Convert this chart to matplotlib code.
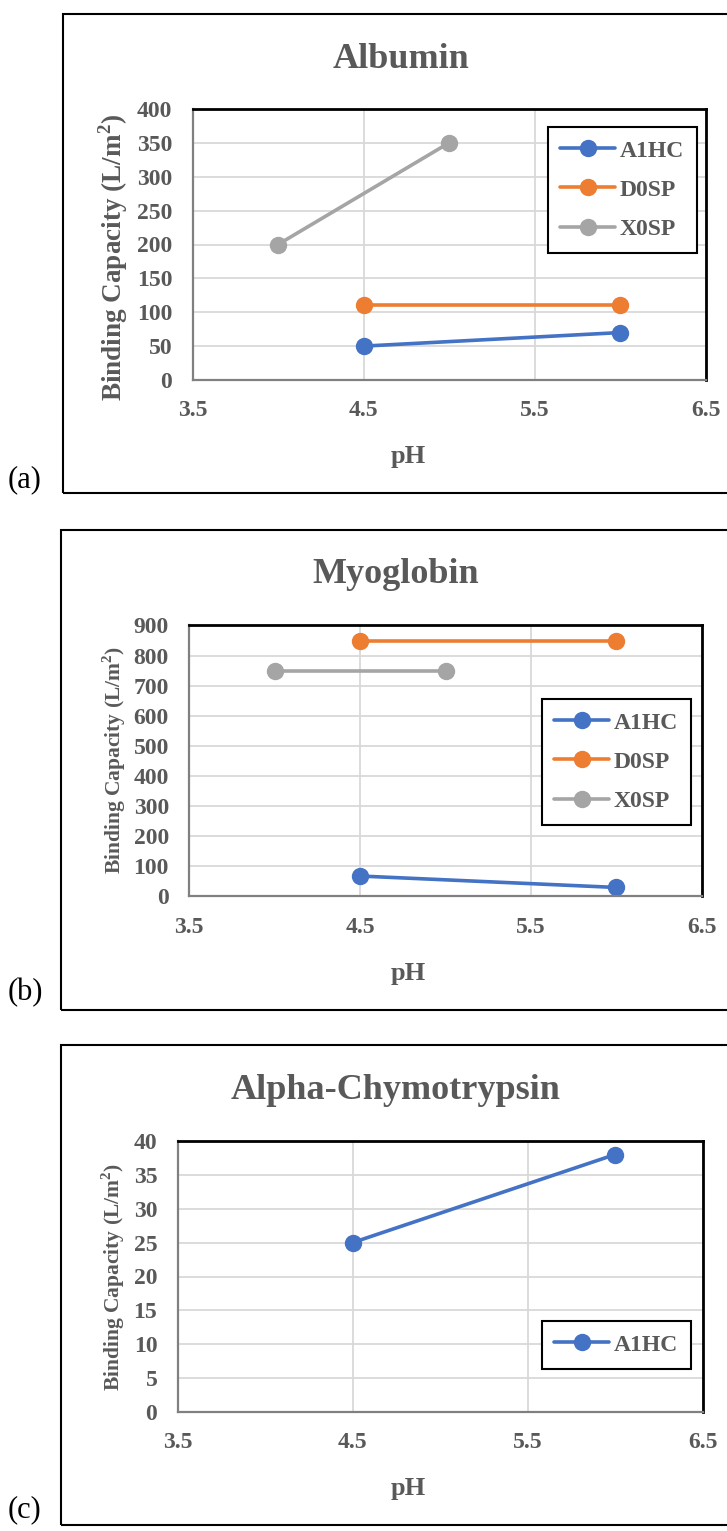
import matplotlib
matplotlib.use("Agg")
from matplotlib import pyplot as plt
from matplotlib.patches import Rectangle

plt.rcParams['font.family'] = ['Liberation Serif', 'DejaVu Serif']
plt.rcParams['mathtext.fontset'] = 'custom'
plt.rcParams['mathtext.rm'] = 'Liberation Serif:bold'
plt.rcParams['mathtext.bf'] = 'Liberation Serif:bold'

# data
series_names = ['A1HC', 'D0SP', 'X0SP']
albumin_ph = [[4.5, 6.0], [4.5, 6.0], [4.0, 5.0]]
albumin_bc = [[50, 70], [110, 110], [200, 350]]
myoglobin_ph = [[4.5, 6.0], [4.5, 6.0], [4.0, 5.0]]
myoglobin_bc = [[68, 30], [850, 850], [750, 750]]
chymo_ph = [[4.5, 6.0]]
chymo_bc = [[25, 38]]

titles = ['Albumin', 'Myoglobin', 'Alpha-Chymotrypsin']
panel_tags = ['(a)', '(b)', '(c)']
y_max = [400, 900, 40]
y_step = [50, 100, 5]
x_ticks = [3.5, 4.5, 5.5, 6.5]

colors = ['#4472C4', '#ED7D31', '#A5A5A5']
txt = '#595959'

W, H = 727, 1531
fig = plt.figure(figsize=(W / 100, H / 100), dpi=100)


def fx(px):
    return px / W


def fy(py):
    return 1 - py / H


# pixel layout of each panel
layout = [
    dict(box=(63.5, 13.5, 492.5), ax=(192.5, 705.5, 109, 380), leg=(547.5, 127),
         title=(401, 68), ylab=(113, 257), ylab_fs=19.5, tag=487),
    dict(box=(60.5, 529.5, 1009.5), ax=(189, 702, 625.5, 896.5), leg=(541.5, 699),
         title=(396, 583), ylab=(114, 760), ylab_fs=15.5, tag=1000),
    dict(box=(60.5, 1045, 1525), ax=(177.5, 702.5, 1141, 1412), leg=(541.5, 1321),
         title=(396, 1099), ylab=(113.5, 1277), ylab_fs=15.5, tag=1517),
]

all_ph = [albumin_ph, myoglobin_ph, chymo_ph]
all_bc = [albumin_bc, myoglobin_bc, chymo_bc]

for i in range(3):
    L = layout[i]
    bl, bt, bb = L['box']
    fig.patches.append(Rectangle((fx(bl), fy(bb)), fx(W + 10 - bl), fy(bt) - fy(bb),
                                 transform=fig.transFigure, fill=False, ec='black', lw=1.5))
    fig.text(fx(8), fy(L['tag']), panel_tags[i], fontsize=22, color='black', va='baseline', ha='left')

    al, ar, at, ab = L['ax']
    ax = fig.add_axes([fx(al), fy(ab), fx(ar - al), fy(at) - fy(ab)])
    for k in range(len(all_ph[i])):
        ax.plot(all_ph[i][k], all_bc[i][k], color=colors[k], lw=2.6, marker='o', ms=11.5,
                label=series_names[k], solid_capstyle='round')
    ax.set_xlim(3.5, 6.5)
    ax.set_ylim(0, y_max[i])
    ax.set_xticks(x_ticks)
    ax.set_xticklabels([str(v) for v in x_ticks])
    ax.set_yticks(range(0, y_max[i] + 1, y_step[i]))
    ax.grid(True, color='#d9d9d9', lw=1.3)
    ax.set_axisbelow(True)
    ax.tick_params(length=0, labelsize=17, labelcolor=txt)
    ax.tick_params(axis='y', pad=14.5)
    ax.tick_params(axis='x', pad=14.5)
    for lab in ax.get_xticklabels() + ax.get_yticklabels():
        lab.set_fontweight('bold')
    for s in ['top', 'right']:
        ax.spines[s].set_color('black')
        ax.spines[s].set_linewidth(2)
    for s in ['left', 'bottom']:
        ax.spines[s].set_color('#808080')
        ax.spines[s].set_linewidth(1.6)

    tx, ty = L['title']
    fig.text(fx(tx), fy(ty), titles[i], fontsize=26, fontweight='bold',
             color=txt, ha='center', va='baseline')
    fig.text(fx(408), fy(ab + 77), 'pH', fontsize=19, fontweight='bold', color=txt,
             ha='center', va='center')
    yx, yy = L['ylab']
    fig.text(fx(yx), fy(yy), r'Binding Capacity (L/m$^{2}$)',
             fontsize=L['ylab_fs'], fontweight='bold', color=txt, rotation=90,
             ha='center', va='center')

    lx, ly = L['leg']
    leg = ax.legend(loc='upper left', bbox_to_anchor=(fx(lx), fy(ly)),
                    bbox_transform=fig.transFigure, borderaxespad=0, fancybox=False,
                    edgecolor='black', framealpha=1, handlelength=2.3, handletextpad=0.2,
                    labelspacing=0.75, borderpad=0.55,
                    prop=dict(family='Liberation Serif', weight='bold', size=17))
    leg.get_frame().set_linewidth(1.5)
    for t in leg.get_texts():
        t.set_color(txt)

fig.savefig('out.png', dpi=100)
